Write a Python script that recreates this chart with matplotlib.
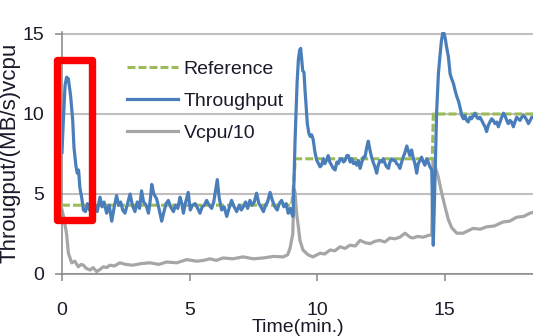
import numpy as np
import matplotlib
matplotlib.use("Agg")
import matplotlib.pyplot as plt
from matplotlib.patches import Rectangle

plt.rcParams['font.family'] = ['Liberation Sans Narrow', 'Liberation Sans', 'DejaVu Sans']

# throughput (MB/s)
tp_time = [0.0, 0.05, 0.12, 0.18, 0.25, 0.34, 0.42, 0.47, 0.55, 0.6, 0.65, 0.7, 0.77, 0.84, 0.92,
           1.0, 1.08, 1.15, 1.22, 1.3, 1.38, 1.49, 1.57, 1.65, 1.75, 1.85, 1.95, 2.05, 2.14, 2.22,
           2.3, 2.38, 2.47, 2.57, 2.67, 2.76, 2.86, 2.95, 3.04, 3.12, 3.2, 3.3, 3.39, 3.46, 3.52,
           3.6, 3.71, 3.8, 3.91, 4.0, 4.08, 4.17, 4.26, 4.37, 4.45, 4.54, 4.63, 4.7, 4.76, 4.85,
           4.95, 5.03, 5.12, 5.22, 5.32, 5.41, 5.5, 5.58, 5.67, 5.77, 5.87, 5.95, 6.02, 6.09, 6.16,
           6.26, 6.36, 6.46, 6.55, 6.65, 6.75, 6.85, 6.95, 7.03, 7.11, 7.2, 7.28, 7.37, 7.45, 7.54,
           7.63, 7.72, 7.8, 7.9, 7.98, 8.06, 8.16, 8.25, 8.35, 8.44, 8.52, 8.61, 8.7, 8.79, 8.87,
           8.95, 9.0, 9.06, 9.14, 9.22, 9.27, 9.32, 9.36, 9.4, 9.44, 9.49, 9.53, 9.58, 9.62, 9.68,
           9.73, 9.79, 9.85, 9.92, 9.99, 10.06, 10.12, 10.18, 10.25, 10.31, 10.37, 10.44, 10.5, 10.57, 10.64,
           10.71, 10.78, 10.84, 10.91, 10.97, 11.04, 11.1, 11.17, 11.23, 11.3, 11.36, 11.43, 11.49, 11.56, 11.62,
           11.69, 11.76, 11.82, 11.88, 11.95, 12.01, 12.07, 12.14, 12.2, 12.27, 12.34, 12.4, 12.47, 12.54, 12.6,
           12.67, 12.73, 12.8, 12.86, 12.93, 13.0, 13.06, 13.12, 13.19, 13.25, 13.32, 13.38, 13.45, 13.52, 13.58,
           13.64, 13.71, 13.78, 13.84, 13.91, 13.97, 14.04, 14.1, 14.17, 14.23, 14.3, 14.36, 14.43, 14.5, 14.56,
           14.62, 14.69, 14.76, 14.82, 14.88, 14.95, 15.02, 15.08, 15.15, 15.22, 15.28, 15.35, 15.41, 15.48, 15.55,
           15.61, 15.68, 15.74, 15.8, 15.87, 15.93, 16.0, 16.06, 16.13, 16.2, 16.26, 16.33, 16.39, 16.46, 16.52,
           16.59, 16.65, 16.72, 16.78, 16.85, 16.91, 16.98, 17.05, 17.11, 17.18, 17.24, 17.31, 17.37, 17.44, 17.5,
           17.57, 17.63, 17.7, 17.76, 17.83, 17.89, 17.96, 18.03, 18.09, 18.16, 18.23, 18.29, 18.36, 18.42, 18.48]
tp_val = [7.6, 9.5, 11.8, 12.3, 12.2, 11.1, 9.6, 7.9, 6.7, 6.3, 6.5, 5.4, 4.8, 4.0, 3.9,
          4.4, 4.0, 4.6, 4.1, 4.3, 3.9, 4.8, 4.2, 4.5, 3.8, 4.3, 3.3, 4.2, 4.9, 4.3,
          4.5, 4.0, 3.8, 4.4, 5.0, 4.3, 3.9, 4.5, 4.1, 5.2, 4.5, 4.3, 3.8, 4.6, 5.6,
          5.0, 4.7, 4.1, 3.3, 3.9, 4.4, 4.6, 4.2, 3.9, 4.3, 4.1, 4.8, 4.4, 3.8, 4.5,
          5.1, 4.0, 4.3, 4.4, 4.1, 3.8, 4.2, 4.3, 4.6, 4.3, 4.1, 4.5, 5.2, 5.9, 4.8,
          4.0, 4.2, 3.6, 4.1, 4.6, 4.2, 3.9, 4.3, 4.0, 4.2, 4.5, 4.1, 4.6, 4.3, 4.5,
          5.05, 4.4, 4.2, 3.9, 4.3, 4.5, 5.1, 4.6, 4.2, 4.0, 4.4, 4.6, 4.2, 4.4, 3.8,
          4.1, 3.8, 3.6, 8.4, 12.0, 13.4, 14.0, 14.1, 13.4, 12.7, 12.6, 11.5, 10.3, 9.4, 8.8,
          8.6, 8.7, 8.4, 7.6, 7.1, 6.9, 6.7, 6.8, 7.2, 6.9, 7.1, 7.4, 7.0, 6.8, 6.6,
          6.5, 7.0, 6.9, 7.2, 7.2, 7.0, 7.1, 7.4, 7.4, 7.0, 7.2, 6.9, 7.0, 6.8, 7.1,
          6.6, 7.0, 7.3, 7.3, 7.9, 8.3, 7.8, 7.3, 7.0, 6.7, 6.3, 6.8, 7.1, 7.0, 7.2,
          6.9, 6.7, 6.6, 7.0, 7.2, 7.1, 7.1, 6.9, 6.8, 6.6, 7.0, 7.3, 7.6, 8.0, 7.7,
          7.4, 7.75, 7.2, 6.9, 6.3, 6.9, 7.1, 7.3, 7.0, 6.8, 7.2, 7.0, 6.7, 6.5, 1.8,
          5.5, 10.1, 12.5, 13.6, 14.6, 15.2, 14.8, 14.2, 13.6, 12.5, 12.2, 11.9, 11.5, 11.1, 10.8,
          10.4, 9.9, 9.7, 9.9, 9.6, 9.5, 9.8, 9.7, 9.9, 10.05, 9.8, 9.7, 9.8, 9.6, 9.4,
          9.2, 8.9, 9.3, 9.5, 9.7, 9.6, 9.4, 9.5, 9.2, 9.5, 9.8, 10.05, 9.9, 9.6, 9.4,
          9.6, 9.5, 9.2, 9.5, 9.8, 9.7, 9.6, 9.8, 9.9, 9.8, 9.6, 9.4, 9.6, 9.8, 9.8]

# reference throughput
ref_time = [0.0, 9.0, 9.05, 9.1, 9.15, 14.52, 14.54, 14.56, 18.48]
ref_val = [4.3, 4.3, 5.0, 6.0, 7.2, 7.2, 8.5, 10.0, 10.0]

# vcpu / 10
cpu_time = [0.0, 0.06, 0.18, 0.25, 0.38, 0.5, 0.64, 0.75, 0.84, 0.95, 1.1, 1.22, 1.36, 1.5, 1.62,
            1.75, 1.88, 2.05, 2.27, 2.5, 2.78, 3.1, 3.45, 3.8, 4.1, 4.5, 4.89, 5.29, 5.55, 5.8,
            6.05, 6.31, 6.7, 7.1, 7.5, 7.88, 8.3, 8.67, 8.85, 8.94, 9.05, 9.1, 9.14, 9.2, 9.27,
            9.33, 9.45, 9.65, 9.84, 10.12, 10.3, 10.51, 10.7, 10.9, 11.1, 11.29, 11.5, 11.69, 11.9, 12.08,
            12.28, 12.47, 12.66, 12.86, 13.05, 13.25, 13.45, 13.65, 13.76, 13.95, 14.16, 14.35, 14.5, 14.55, 14.63,
            14.75, 14.89, 15.02, 15.15, 15.28, 15.48, 15.73, 15.92, 16.12, 16.4, 16.65, 16.95, 17.29, 17.55, 17.83,
            18.1, 18.35, 18.48]
cpu_val = [4.0, 3.6, 2.5, 1.3, 0.7, 0.8, 0.45, 0.6, 0.55, 0.35, 0.25, 0.4, 0.15, 0.3, 0.45,
           0.4, 0.55, 0.5, 0.7, 0.6, 0.55, 0.65, 0.7, 0.6, 0.75, 0.7, 0.9, 0.8, 0.85, 0.95,
           0.85, 1.0, 0.95, 1.07, 0.95, 1.0, 1.1, 1.07, 1.2, 1.6, 2.5, 5.3, 5.1, 3.8, 2.95,
           2.1, 1.5, 1.2, 1.07, 1.3, 1.25, 1.5, 1.45, 1.7, 1.6, 1.8, 1.75, 2.1, 1.95, 1.9,
           2.05, 2.1, 2.0, 2.25, 2.2, 2.3, 2.55, 2.3, 2.25, 2.35, 2.3, 2.4, 2.45, 7.1, 6.7,
           6.1, 5.05, 4.2, 3.4, 2.9, 2.55, 2.55, 2.7, 2.85, 2.8, 2.95, 3.0, 3.25, 3.3, 3.55,
           3.6, 3.8, 3.85]

xticks = [0, 5, 10, 15]
yticks = [0, 5, 10, 15]

fig = plt.figure(figsize=(5.33, 3.36), dpi=100)
ax = fig.add_axes([62 / 533, 1 - 274 / 336, 471 / 533, 241.6 / 336])

ax.plot(ref_time, ref_val, color='#9BBB59', lw=2.2, ls=(0, (2.6, 1.0)), label='Reference', zorder=3)
ax.plot(tp_time, tp_val, color='#4A7EBB', lw=2.3, label='Throughput', zorder=4)
ax.plot(cpu_time, cpu_val, color='#A6A6A6', lw=2.3, label='Vcpu/10', zorder=2)

ax.set_xlim(0, 18.47)
ax.set_ylim(0, 15.1)
ax.set_xticks(xticks)
ax.set_yticks(yticks)
ax.yaxis.grid(True, color='#BFBFBF', lw=1.5)
ax.set_axisbelow(True)
for s in ['top', 'right']:
    ax.spines[s].set_visible(False)
for s in ['left', 'bottom']:
    ax.spines[s].set_color('#868686')
    ax.spines[s].set_linewidth(1.1)
ax.tick_params(axis='both', direction='out', length=5, width=1.1, color='#868686',
               labelsize=14, labelcolor='#1a1a2a')
ax.tick_params(axis='x', pad=15)
ax.tick_params(axis='y', pad=8)

ax.set_xlabel('Time(min.)', fontsize=14, color='#1a1a2a', labelpad=0.5)
ax.set_ylabel('Througput/(MB/s)vcpu', fontsize=16, color='#1a1a2a')
ax.yaxis.set_label_coords(-0.088, 0.5)

leg = ax.legend(loc='upper left', bbox_to_anchor=(0.139, 0.884), frameon=False, fontsize=14,
                handlelength=2.6, handletextpad=0.3, labelspacing=0.73, borderaxespad=0, borderpad=0)
for t in leg.get_texts():
    t.set_color('#1a1a2a')

# red highlight box around the start-up burst
box = Rectangle((-0.18, 3.4), 1.34, 10.0, fill=False, ec='#FF0000', lw=5.3,
                joinstyle='round', clip_on=False, zorder=6)
ax.add_patch(box)

fig.savefig('out.png', dpi=100)
